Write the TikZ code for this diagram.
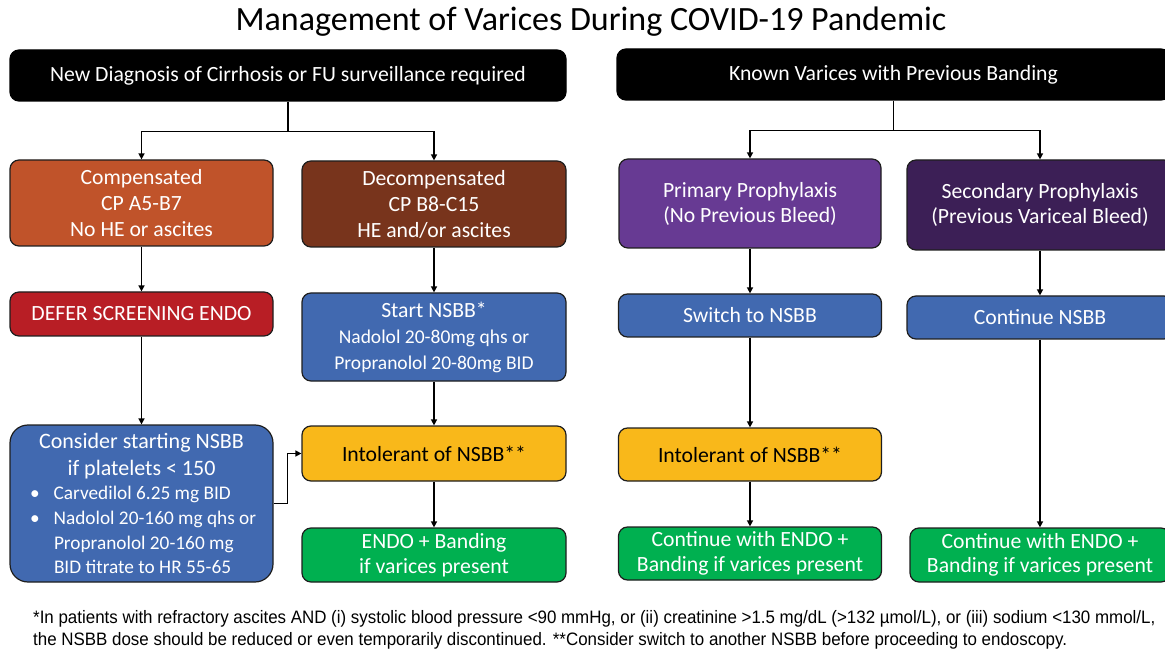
\documentclass[tikz,border=0pt]{standalone}
\usepackage{fontspec}
\setmainfont{Carlito}
\newfontfamily\notefont[FakeStretch=0.94]{Liberation Sans}
\usetikzlibrary{arrows.meta}
\definecolor{cOrange}{RGB}{192,83,42}
\definecolor{cBrown}{RGB}{120,52,28}
\definecolor{cRed}{RGB}{184,30,37}
\definecolor{cBlue}{RGB}{65,105,176}
\definecolor{cYellow}{RGB}{249,184,26}
\definecolor{cGreen}{RGB}{0,176,80}
\definecolor{cPurple}{RGB}{103,58,147}
\definecolor{cDeep}{RGB}{60,31,86}
\definecolor{cEdge}{RGB}{30,30,30}
\newcommand\doseline{\fontsize{19.5}{25}\selectfont}
\tikzset{
  box/.style={draw=cEdge, line width=1.2pt, rounded corners=9pt, text=white,
    align=center, inner sep=2pt, font=\fontsize{21.7}{26}\selectfont},
  headbox/.style={box, fill=black, draw=black},
  arr/.style={draw=black, line width=1.4pt,
    -{Triangle[length=6pt,width=6pt]}},
  link/.style={draw=black, line width=1.4pt},
}
\begin{document}
\begin{tikzpicture}[x=1pt,y=-1pt]
\useasboundingbox (0,0) rectangle (1165,652);
\clip (0,0) rectangle (1165,652);

% title
\node[font=\fontsize{34}{40}\selectfont] (title) at (591,22)
  {Management of Varices During COVID-19 Pandemic};

% header boxes
\node[headbox, minimum width=556pt, minimum height=51pt] (newdx) at (288,75.5)
  {New Diagnosis of Cirrhosis or FU surveillance required};
\node[headbox, minimum width=553pt, minimum height=51pt] (known) at (893.5,74.5)
  {Known Varices with Previous Banding};

% left branch
\node[box, fill=cOrange, minimum width=263pt, minimum height=86pt] (comp) at (141.5,203)
  {Compensated\\CP A5-B7\\No HE or ascites};
\node[box, fill=cBrown, minimum width=264pt, minimum height=86pt] (decomp) at (434,204)
  {Decompensated\\CP B8-C15\\HE and/or ascites};
\node[box, fill=cRed, minimum width=263pt, minimum height=44pt] (defer) at (141.5,314)
  {DEFER SCREENING ENDO};
\node[box, fill=cBlue, minimum width=264pt, minimum height=88pt] (start) at (434,337)
  {Start NSBB*\\\doseline Nadolol 20-80mg qhs or\\\doseline Propranolol 20-80mg BID};
\node[box, fill=cBlue, rounded corners=18pt, minimum width=263pt, minimum height=157pt] (cons) at (141.5,503.5)
  {\parbox{255pt}{\centering\fontsize{22}{27}\selectfont
    Consider starting NSBB\\if platelets < 150\par
    \raggedright\fontsize{19.3}{24.7}\selectfont
    \hspace*{16pt}\textbullet\hspace{14pt}Carvedilol 6.25 mg BID\\
    \hspace*{16pt}\textbullet\hspace{14pt}Nadolol 20-160 mg qhs or\\
    \hspace*{40pt}Propranolol 20-160 mg\\
    \hspace*{40pt}BID titrate to HR 55-65\par}};
\node[box, fill=cYellow, text=black, minimum width=264pt, minimum height=55pt] (intolL) at (434,453.5)
  {Intolerant of NSBB**};
\node[box, fill=cGreen, minimum width=264pt, minimum height=54pt,
  font=\fontsize{21.7}{24.5}\selectfont] (endoL) at (434,555)
  {ENDO + Banding\\if varices present};

% right branch
\node[box, fill=cPurple, minimum width=262pt, minimum height=89pt,
  font=\fontsize{21.7}{25}\selectfont] (prim) at (750,203.5)
  {Primary Prophylaxis\\(No Previous Bleed)};
\node[box, fill=cDeep, minimum width=266pt, minimum height=90pt,
  font=\fontsize{21.7}{25}\selectfont] (second) at (1040,205)
  {Secondary Prophylaxis\\(Previous Variceal Bleed)};
\node[box, fill=cBlue, minimum width=263pt, minimum height=43pt] (switch) at (750,315.5)
  {Switch to NSBB};
\node[box, fill=cBlue, minimum width=266pt, minimum height=43pt] (cont) at (1040,317.5)
  {Continue NSBB};
\node[box, fill=cYellow, text=black, minimum width=263pt, minimum height=53pt] (intolR) at (750,454.5)
  {Intolerant of NSBB**};
\node[box, fill=cGreen, minimum width=263pt, minimum height=53pt,
  font=\fontsize{21.7}{24.5}\selectfont] (endoM) at (750,553.5)
  {Continue with ENDO +\\Banding if varices present};
\node[box, fill=cGreen, minimum width=260pt, minimum height=54pt,
  font=\fontsize{21.7}{24.5}\selectfont] (endoR) at (1040,555)
  {Continue with ENDO +\\Banding if varices present};

% connectors
\draw[link] (newdx.south) -- ++(0,30) coordinate (splitL);
\draw[arr] (splitL) -| (comp.north);
\draw[arr] (splitL) -| (decomp.north);
\draw[link] (known.south) -- ++(0,30) coordinate (splitR);
\draw[arr] (splitR) -| (prim.north);
\draw[arr] (splitR) -| (second.north);

\draw[arr] (comp.south) -- (defer.north);
\draw[arr] (defer.south) -- (cons.north);
\draw[arr] (decomp.south) -- (start.north);
\draw[arr] (start.south) -- (intolL.north);
\draw[arr] (intolL.south) -- (endoL.north);
\draw[arr] (cons.east) -- ++(14,0) |- (intolL.west);

\draw[arr] (prim.south) -- (switch.north);
\draw[arr] (switch.south) -- (intolR.north);
\draw[arr] (intolR.south) -- (endoM.north);
\draw[arr] (second.south) -- (cont.north);
\draw[arr] (cont.south) -- (endoR.north);

% footnote
\node[anchor=north west, align=left, inner sep=0pt,
  font=\notefont\fontsize{18}{22}\selectfont] (note) at (33,610)
  {*In patients with refractory ascites AND (i) systolic blood pressure <90 mmHg, or (ii) creatinine >1.5 mg/dL (>132 µmol/L), or (iii) sodium <130 mmol/L,\\
   the NSBB dose should be reduced or even temporarily discontinued. **Consider switch to another NSBB before proceeding to endoscopy.};
\end{tikzpicture}
\end{document}
